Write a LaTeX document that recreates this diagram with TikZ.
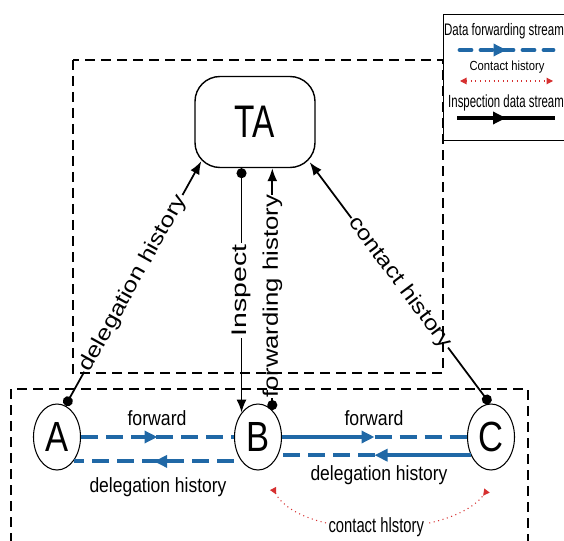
\documentclass[tikz,border=0pt]{standalone}
\usepackage{fontspec}
\setmainfont{Liberation Sans}
\usetikzlibrary{arrows.meta, shapes.geometric, decorations.markings}

\definecolor{fwdblue}{RGB}{32,104,166}
\definecolor{histred}{RGB}{214,48,48}
\newcommand{\hsq}[2]{\scalebox{#1}[1]{#2}}

\begin{document}
\begin{tikzpicture}[x=0.2mm, y=-0.2mm]

% Define styles
\tikzstyle{agent}=[ellipse, draw, line width=0.6pt, minimum width=9.4mm, minimum height=13.2mm, inner sep=0pt, font=\fontsize{24}{24}\selectfont]
\tikzstyle{authority}=[draw, line width=0.8pt, rounded corners=5mm, minimum width=24mm, minimum height=18.2mm, font=\fontsize{26}{26}\selectfont]
\tikzstyle{lbl}=[font=\fontsize{11.7}{12}\selectfont, inner sep=0pt]
\tikzstyle{edgelbl}=[font=\fontsize{12}{12}\selectfont, fill=white, inner sep=1pt]
\tikzstyle{zone}=[line width=0.6pt, dash pattern=on 2mm off 1.2mm]
\tikzstyle{insp}=[line width=1pt, {Circle[length=2mm]}-{Latex[length=2.6mm,width=2mm]}]
\tikzstyle{fwd}=[draw=fwdblue, line width=2.2pt]
\tikzstyle{fwddash}=[fwd, dash pattern=on 3.4mm off 1.6mm]
\tikzstyle{midtip}=[postaction={decorate}, decoration={markings, mark=at position 0.5 with {\arrow{Triangle[length=2.6mm,width=2.4mm]}}}]
\tikzstyle{contact}=[draw=histred, line width=0.6pt, dotted]

\useasboundingbox (0,0) rectangle (564,541);
\clip (0,0) rectangle (564,541);

% Nodes
\node[authority] (TA) at (255,122) {\hsq{0.73}{TA}};
\node[agent] (A) at (57,437) {\hsq{0.82}{A}};
\node[agent] (B) at (258,437) {\hsq{0.82}{B}};
\node[agent] (C) at (491,437) {\hsq{0.82}{C}};

% Reports to the authority
\draw[insp] (A.75) -- node[edgelbl, sloped] (lblDeleg) {\hsq{1.2}{delegation history}} ([shift={(7,-7)}]TA.south west);
\draw[insp] (C.92) -- node[edgelbl, sloped] (lblContact) {\hsq{1.16}{contact history}} ([shift={(-6,-6)}]TA.south east);
\draw[insp] (B.124 |- TA.south) -- node[edgelbl, rotate=90] (lblInsp) {\hsq{1.35}{Inspect}} (B.124);
\draw[insp] (B.62) -- node[edgelbl, rotate=90, pos=0.47, inner sep=0pt] (lblFwdHist) {\hsq{1.22}{forwarding history}} (B.62 |- TA.south);

% Forwarding between nodes
\draw[fwddash, midtip] (A.east) -- (B.west);
\draw[fwddash, midtip] (B.236 -| B.west) -- (A.-54 |- B.236);
\path (B.east) -- coordinate[pos=0.5] (bcUp) (C.west);
\path (C.222) -- coordinate[pos=0.5] (bcLow) (B.-42);
\draw[fwd, -{Triangle[length=2.6mm,width=2.4mm]}] (B.east) -- (bcUp);
\draw[fwddash] (bcUp) -- (C.west);
\draw[fwd, -{Triangle[length=2.6mm,width=2.4mm]}] (C.222) -- (bcLow);
\draw[fwddash] (bcLow) -- (B.-42);

\node[lbl, anchor=base] (fwdAB) at (157,425) {\hsq{0.86}{forward}};
\node[lbl, anchor=base] (fwdBC) at (374,425) {\hsq{0.86}{forward}};
\node[lbl, anchor=base] (delAB) at (158,492) {\hsq{0.85}{delegation history}};
\node[lbl, anchor=base] (delBC) at (379,480) {\hsq{0.85}{delegation history}};

% Contact history between B and C
\coordinate (chB) at ([shift={(15,18)}]B.south);
\coordinate (chC) at ([shift={(-4,20)}]C.south);
\draw[contact, {Triangle[reversed,length=1.3mm,width=1.3mm]}-{Triangle[reversed,length=1.3mm,width=1.3mm]}]
  (chB) .. controls (300,540) and (450,540) .. node[lbl, fill=white, inner sep=1pt] (lblCh) {\hsq{0.72}{contact hlstory}} (chC);

% Zones
\draw[zone] (73,60) rectangle (443,373);
\draw[zone] (11,389) rectangle (528,560);

% Legend
\node[draw, fill=white, line width=0.6pt, anchor=north west, minimum width=25.4mm, minimum height=25.2mm] (legend) at (443,14) {};
\node[font=\fontsize{9.5}{10}\selectfont, inner sep=0pt] (lgFwd) at (504,31) {\hsq{0.69}{Data forwarding stream}};
\draw[fwd, line width=2.8pt, line cap=round, dash pattern=on 2.2mm off 2mm, midtip] (460,50) -- (553,50);
\node[font=\fontsize{7.5}{8}\selectfont, inner sep=0pt] (lgCh) at (507,67) {\hsq{0.85}{Contact history}};
\draw[contact, {Triangle[length=1.3mm,width=1.3mm]}-{Triangle[length=1.3mm,width=1.3mm]}] (460,81) -- (553,81);
\node[font=\fontsize{10}{10}\selectfont, inner sep=0pt] (lgInsp) at (506,103) {\hsq{0.65}{Inspection data stream}};
\draw[line width=2.8pt, midtip] (457,118) -- (555,118);

\end{tikzpicture}
\end{document}
